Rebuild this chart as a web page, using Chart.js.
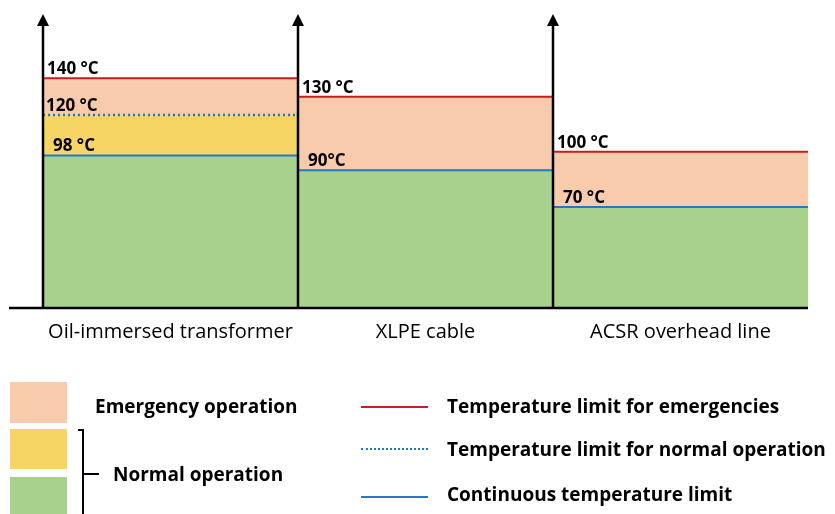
<!DOCTYPE html>
<html>
<head>
<meta charset="utf-8">
<script src="https://cdn.jsdelivr.net/npm/chart.js@4"></script>
<style>
  html, body { margin: 0; padding: 0; background: #fff; overflow: hidden; }
  #wrap { position: relative; width: 835px; height: 514px; font-family: 'Open Sans', sans-serif; overflow: hidden; }
  #wrap canvas { position: absolute; left: 0; top: 0; }
  .box { position: absolute; left: 10px; width: 57px; }
  .txt { position: absolute; font-weight: bold; font-size: 19px; line-height: 24px; white-space: nowrap; color: #000; }
  .sample { position: absolute; left: 361px; width: 67px; }
  .br { position: absolute; background: #000; }
</style>
</head>
<body>
<div id="wrap">
  <canvas id="chart"></canvas>

  <!-- legend: areas -->
  <div class="box" style="top:382px;height:41px;background:#F8CBAD"></div>
  <div class="box" style="top:429px;height:40px;background:#F7D564"></div>
  <div class="box" style="top:477px;height:41px;background:#A9D18E"></div>
  <div class="txt" style="left:95px;top:394px">Emergency operation</div>
  <div class="br" style="left:78px;top:429px;width:6px;height:2px"></div>
  <div class="br" style="left:82px;top:429px;width:2px;height:90px"></div>
  <div class="br" style="left:82px;top:473px;width:17px;height:2px"></div>
  <div class="txt" style="left:113px;top:462px">Normal operation</div>

  <!-- legend: lines -->
  <div class="sample" style="top:406px;border-top:2px solid #C81E1E"></div>
  <div class="sample" style="top:448px;border-top:2.5px dotted #2279C9"></div>
  <div class="sample" style="top:496px;border-top:2px solid #2279C9"></div>
  <div class="txt" style="left:447px;top:394px">Temperature limit for emergencies</div>
  <div class="txt" style="left:447px;top:437px">Temperature limit for normal operation</div>
  <div class="txt" style="left:447px;top:482px">Continuous temperature limit</div>
</div>
<script>
const categories = ['Oil-immersed transformer', 'XLPE cable', 'ACSR overhead line'];
const emergencyLimit = [140, 130, 100];
const normalLimit = [120, null, null];
const continuousLimit = [98, 90, 70];
const emergencyLabels = ['140 °C', '130 °C', '100 °C'];
const normalLabels = ['120 °C', null, null];
const continuousLabels = ['98 °C', '90°C', '70 °C'];

const RED = '#C81E1E';
const BLUE = '#2279C9';

// one flat segment per category, broken between categories
function segments(values) {
  const pts = [];
  values.forEach((v, i) => {
    if (v == null) return;
    pts.push({ x: i, y: v }, { x: i + 1, y: v }, { x: i + 1, y: null });
  });
  return pts;
}

const overlay = {
  id: 'overlay',
  afterDatasetsDraw(chart) {
    const { ctx, chartArea, scales } = chart;
    const xl = scales.xl, y = scales.y;
    ctx.save();
    ctx.strokeStyle = '#000';
    ctx.fillStyle = '#000';
    ctx.lineWidth = 2.5;
    ctx.beginPath();
    ctx.moveTo(chartArea.left - 34, chartArea.bottom);
    ctx.lineTo(chartArea.right, chartArea.bottom);
    ctx.stroke();
    for (let i = 0; i < categories.length; i++) {
      const x = xl.getPixelForValue(i);
      ctx.beginPath();
      ctx.moveTo(x, chartArea.bottom);
      ctx.lineTo(x, chartArea.top + 8);
      ctx.stroke();
      ctx.beginPath();
      ctx.moveTo(x, chartArea.top);
      ctx.lineTo(x - 6, chartArea.top + 12);
      ctx.lineTo(x + 6, chartArea.top + 12);
      ctx.closePath();
      ctx.fill();
    }
    ctx.font = 'bold 17px "Open Sans"';
    ctx.textBaseline = 'alphabetic';
    const put = (labels, values, dx) => labels.forEach((t, i) => {
      if (!t) return;
      ctx.fillText(t, xl.getPixelForValue(i) + dx, y.getPixelForValue(values[i]) - 4);
    });
    put(emergencyLabels, emergencyLimit, 4);
    put(normalLabels, normalLimit, 3);
    put(continuousLabels, continuousLimit, 10);
    ctx.restore();
  }
};

const barDefaults = { barPercentage: 1, categoryPercentage: 1, grouped: false, borderWidth: 0, order: 2 };
const lineDefaults = { type: 'line', xAxisID: 'xl', pointRadius: 0, borderWidth: 2, fill: false, spanGaps: false, order: 0 };

new Chart(document.getElementById('chart'), {
  type: 'bar',
  data: {
    labels: categories,
    datasets: [
      { ...barDefaults, label: 'Normal (continuous)', data: continuousLimit.map(v => [0, v]), backgroundColor: '#A9D18E' },
      { ...barDefaults, label: 'Normal', data: normalLimit.map((v, i) => v == null ? null : [continuousLimit[i], v]), backgroundColor: '#F7D564' },
      { ...barDefaults, label: 'Emergency', data: emergencyLimit.map((v, i) => [normalLimit[i] ?? continuousLimit[i], v]), backgroundColor: '#F8CBAD' },
      { ...lineDefaults, label: 'Temperature limit for emergencies', data: segments(emergencyLimit), borderColor: RED },
      { ...lineDefaults, label: 'Temperature limit for normal operation', data: segments(normalLimit), borderColor: BLUE, borderWidth: 2.5, borderDash: [2, 3] },
      { ...lineDefaults, label: 'Continuous temperature limit', data: segments(continuousLimit), borderColor: BLUE }
    ]
  },
  options: {
    responsive: true,
    maintainAspectRatio: false,
    animation: false,
    layout: { padding: { left: 43, right: 27, top: 14, bottom: 158 } },
    plugins: { legend: { display: false }, tooltip: { enabled: false } },
    scales: {
      x: {
        type: 'category',
        grid: { display: false, drawTicks: false },
        border: { display: false },
        ticks: { color: '#000', padding: 12, font: { family: 'Open Sans', size: 20 } }
      },
      xl: { type: 'linear', min: 0, max: 3, offset: false, display: false },
      y: { min: 15, max: 175, display: false }
    }
  },
  plugins: [overlay]
});
</script>
</body>
</html>
